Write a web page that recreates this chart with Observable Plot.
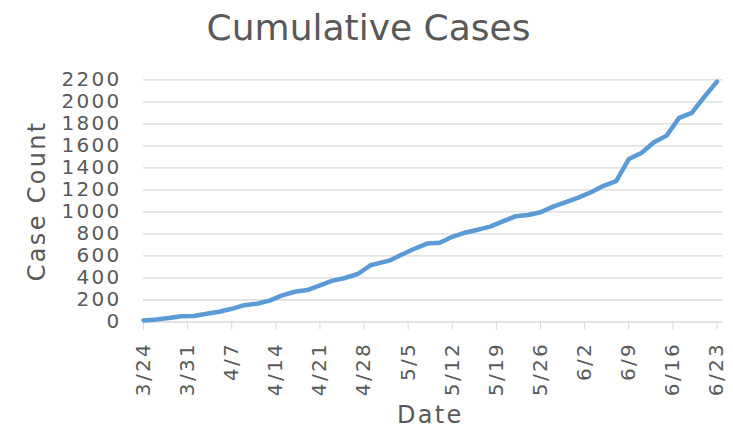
<!DOCTYPE html>
<html>
<head>
<meta charset="utf-8">
<script src="https://cdn.jsdelivr.net/npm/d3@7"></script>
<script src="https://cdn.jsdelivr.net/npm/@observablehq/plot@0.6"></script>
<style>
  html, body { margin: 0; padding: 0; background: #fff; }
  #title { width: 733px; height: 56px; line-height: 56px; text-align: center; font-family: "DejaVu Sans", sans-serif; font-size: 36px; color: #595959; padding-left: 4px; box-sizing: border-box; }
</style>
</head>
<body>
<div id="title">Cumulative Cases</div>
<div id="chart"></div>
<script>
const dates = ["3/24","3/26","3/28","3/30","4/1","4/3","4/5","4/7","4/9","4/11","4/13","4/15","4/17","4/19","4/21","4/23","4/25","4/27","4/29","5/2","5/4","5/6","5/8","5/10","5/12","5/14","5/16","5/18","5/20","5/22","5/24","5/26","5/28","5/30","6/1","6/3","6/5","6/7","6/9","6/11","6/13","6/15","6/17","6/19","6/21","6/23"];
const cases = [14,22,36,53,54,75,93,120,153,166,194,242,275,290,333,376,400,436,515,557,613,665,712,720,774,811,838,866,914,960,972,997,1048,1088,1130,1179,1237,1280,1480,1535,1632,1693,1855,1900,2046,2183];
const weekTicks = ["3/24","3/31","4/7","4/14","4/21","4/28","5/5","5/12","5/19","5/26","6/2","6/9","6/16","6/23"];
const yTicks = [0,200,400,600,800,1000,1200,1400,1600,1800,2000,2200];

const parse = s => { const [m, d] = s.split("/").map(Number); return new Date(Date.UTC(2020, m - 1, d)); };
const data = dates.map((d, i) => ({date: parse(d), value: cases[i]}));

const chart = Plot.plot({
  width: 733,
  height: 376,
  marginTop: 23.3,
  marginBottom: 110.5,
  marginLeft: 143,
  marginRight: 16.5,
  style: {fontFamily: "DejaVu Sans, sans-serif", fontSize: "20px", color: "#595959", background: "white", letterSpacing: "2.3px"},
  x: {type: "utc", domain: [parse(weekTicks[0]), parse(weekTicks[weekTicks.length - 1])]},
  y: {domain: [0, 2200]},
  marks: [
    Plot.ruleY(yTicks, {stroke: "#d9d9d9", strokeWidth: 1.3, insetRight: -6}),
    Plot.axisY({ticks: yTicks, tickFormat: d => String(d), tickSize: 0, tickPadding: 22, label: null, fill: "#595959"}),
    Plot.axisX({ticks: weekTicks.map(parse), tickFormat: (d, i) => weekTicks[i], tickRotate: -90, tickSize: 8, tickPadding: 12, stroke: "#d9d9d9", fill: "#595959", label: null}),
    Plot.line(data, {x: "date", y: "value", stroke: "#5B9BD5", strokeWidth: 4.5, strokeLinecap: "round", strokeLinejoin: "round"}),
    Plot.text(["Case Count"], {frameAnchor: "left", textAnchor: "middle", lineAnchor: "middle", dx: -106, rotate: -90, fontSize: 24, fill: "#595959", style: "letter-spacing:1.5px"}),
    Plot.text(["Date"], {frameAnchor: "bottom", textAnchor: "middle", lineAnchor: "middle", dy: 93, fontSize: 24, fill: "#595959"})
  ]
});
document.getElementById("chart").appendChild(chart);
</script>
</body>
</html>
